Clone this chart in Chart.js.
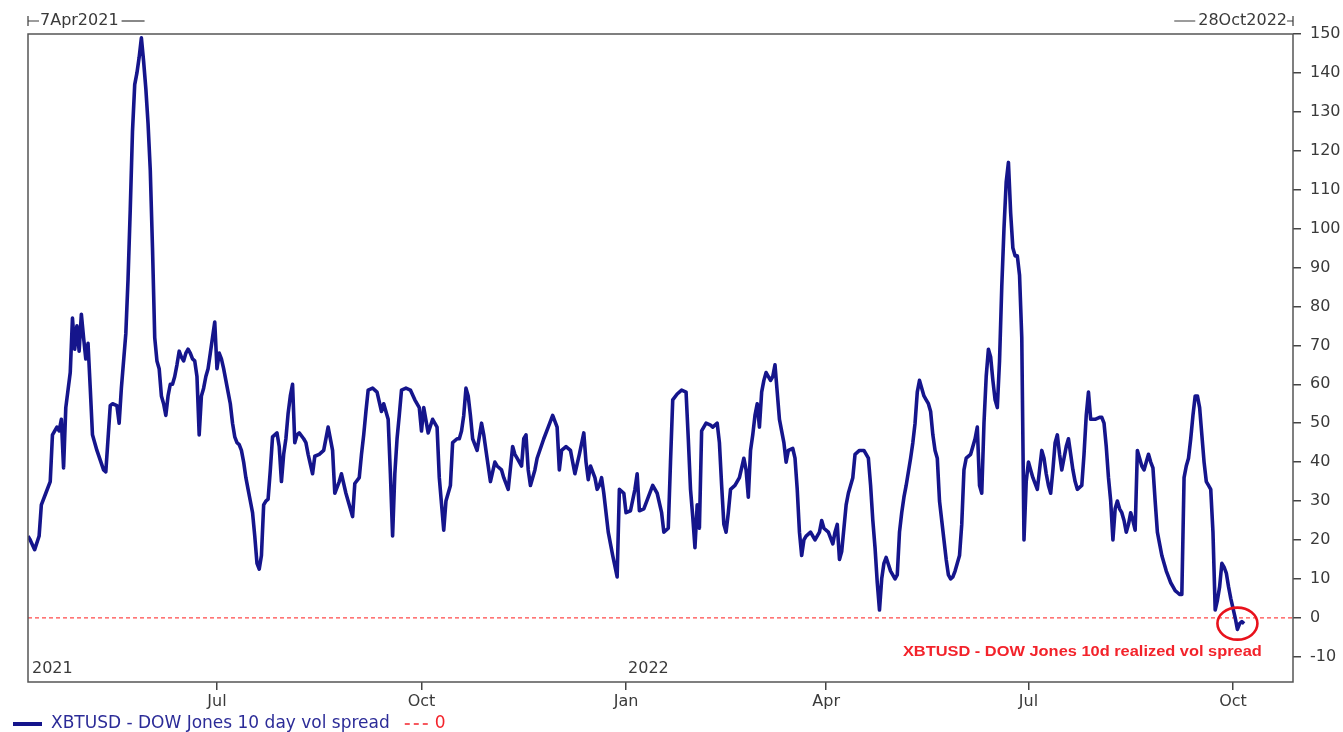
<!DOCTYPE html>
<html>
<head>
<meta charset="utf-8">
<script src="https://cdn.jsdelivr.net/npm/chart.js@4.4.0/dist/chart.umd.min.js"></script>
<style>
  html, body { margin: 0; padding: 0; background: #fff; overflow: hidden; }
  #chart { display: block; }
</style>
</head>
<body>
<canvas id="chart" width="1343" height="732"></canvas>
<script>
// XBTUSD - DOW Jones 10 day vol spread, daily, days counted from 7 Apr 2021
const startDate = "2021-04-07";
const endDate = "2022-10-28";

const spreadDays = [
  0, 1, 3, 5, 6, 8, 10, 11, 13, 14, 15, 16, 17, 19, 20, 21, 22, 23, 24, 25, 26, 27, 28, 29, 31, 34, 35, 37, 38, 40,
  41, 42, 44, 45, 46, 47, 48, 49, 50, 51, 52, 53, 54, 55, 56, 57, 58, 59, 60, 61, 62, 63, 64, 65, 66, 67, 68, 69, 70, 71,
  72, 73, 74, 75, 76, 77, 78, 79, 80, 81, 82, 83, 84, 85, 86, 87, 88, 89, 90, 91, 92, 93, 94, 95, 96, 97, 98, 99, 100, 101,
  102, 103, 104, 105, 106, 107, 108, 109, 110, 111, 112, 113, 114, 115, 116, 117, 118, 119, 120, 121, 122, 124, 125, 126, 128, 129, 131, 133, 135, 137,
  138, 140, 141, 143, 144, 146, 147, 149, 150, 151, 152, 153, 155, 157, 159, 160, 162, 163, 164, 165, 166, 167, 168, 170, 172, 174, 176, 177, 178, 180,
  182, 184, 185, 187, 188, 190, 191, 193, 194, 195, 196, 197, 198, 199, 200, 202, 204, 205, 206, 208, 210, 211, 213, 214, 216, 218, 219, 220, 222, 223,
  224, 225, 226, 228, 229, 232, 234, 236, 238, 239, 240, 242, 244, 246, 248, 250, 251, 252, 253, 255, 256, 257, 258, 259, 261, 263, 265, 266, 268, 269,
  271, 273, 274, 275, 277, 279, 281, 283, 285, 286, 288, 289, 290, 292, 294, 296, 297, 298, 299, 300, 301, 302, 303, 305, 307, 308, 310, 311, 312, 313,
  314, 315, 316, 318, 320, 322, 323, 324, 325, 326, 327, 328, 329, 330, 331, 332, 334, 335, 336, 337, 338, 340, 341, 342, 344, 345, 346, 347, 348, 349,
  350, 352, 354, 356, 357, 358, 360, 362, 363, 364, 365, 366, 368, 369, 371, 372, 374, 376, 378, 379, 380, 381, 382, 383, 384, 385, 386, 388, 390, 391,
  392, 393, 394, 395, 397, 398, 399, 400, 401, 402, 403, 404, 405, 406, 407, 408, 409, 410, 411, 412, 413, 414, 415, 416, 417, 418, 419, 420, 421, 422,
  424, 425, 426, 427, 428, 429, 430, 431, 432, 433, 434, 435, 436, 437, 438, 439, 440, 441, 442, 443, 444, 445, 446, 447, 448, 449, 450, 451, 452, 454,
  455, 456, 457, 458, 459, 460, 461, 462, 463, 464, 465, 466, 467, 468, 469, 470, 471, 472, 474, 475, 476, 477, 478, 480, 482, 483, 484, 485, 486, 487,
  488, 489, 490, 491, 492, 493, 494, 495, 496, 497, 498, 499, 500, 501, 502, 503, 504, 505, 506, 507, 508, 509, 510, 511, 512, 513, 514, 515, 516, 517,
  518, 519, 520, 521, 522, 523, 524, 525, 526, 527, 528, 529, 530, 531, 532, 533, 534, 535, 536, 537, 538, 539, 540, 541, 542, 543, 544, 545, 546, 547
];

const spreadValues = [
  21, 20, 17.5, 21, 29, 32, 35, 47, 49, 48, 51, 38.5, 54, 63, 77, 69, 75, 68.5, 78, 72, 66.5, 70.5, 59, 47, 43, 38, 37.5, 54.5, 55, 54.5,
  50, 59, 73, 87, 105, 125, 137, 140, 144, 149, 143, 136, 127, 115, 95, 72, 66, 64, 57, 55, 52, 57, 60, 60, 62, 65, 68.5, 67, 66, 68,
  69, 68, 66.5, 66, 62, 47, 57, 59, 62, 64, 68, 72, 76, 64, 68, 66.5, 64, 61, 58, 55, 50, 46.5, 45, 44.5, 43, 40, 36, 33, 30, 27,
  21, 14, 12.5, 16, 29, 30, 30.5, 38, 46.5, 47, 47.5, 44, 35, 42, 46, 52.5, 57, 60, 45, 47, 47.5, 46, 45, 42, 37, 41.5, 42, 43, 49, 43,
  32, 35, 37, 32, 30, 26, 34.5, 36, 42, 47, 53, 58.5, 59, 58, 53, 55, 51, 37, 21, 37, 46, 52, 58.5, 59, 58.5, 56, 54, 48, 54, 47.5,
  51, 49, 36, 22.5, 30, 34, 45, 46, 46, 48, 52, 59, 57, 52, 46, 43, 50, 47, 43, 35, 40, 39, 38, 36, 33, 44, 42, 41, 39, 46,
  47, 38, 34, 38, 41, 46, 49, 52, 49, 38, 43, 44, 43, 37, 42, 47.5, 40, 35.5, 39, 36, 33, 34, 36, 32, 22, 16, 10.5, 33, 32, 27,
  27.5, 33, 37, 27.5, 28, 31, 34, 32, 27, 22, 23, 40, 56, 57.5, 58.5, 58, 46, 33, 26, 18, 29, 23, 48, 50, 49.5, 49, 50, 45, 34, 24,
  22, 27, 33, 34, 36, 41, 38, 31, 43, 47, 52, 55, 49, 58, 61, 63, 61, 62, 65, 58, 51, 45, 40, 43, 43.5, 41, 33, 22, 16, 20,
  21, 22, 20, 22, 25, 23, 22, 19, 22, 24, 15, 17, 29, 32, 36, 42, 43, 43, 41, 34, 25, 18, 9, 2, 10, 14, 15.5, 12, 10, 11,
  22, 27, 31, 34, 41, 45, 50, 58, 61, 59, 57, 56, 55, 53, 47, 43, 41, 30, 25, 20, 15, 11, 10, 10.5, 12, 14, 16, 24, 38, 41,
  42, 44, 46, 49, 34, 32, 50, 62, 69, 67, 61, 56, 54, 66, 85, 100, 112, 117, 104, 95, 93, 93, 88, 72, 20, 35, 40, 38, 36, 33,
  38, 43, 41, 37, 34, 32, 38, 45, 47, 42, 38, 41, 44, 46, 42, 38, 35, 33, 34, 42, 52, 58, 51, 51, 51.5, 51.5, 50, 44, 36, 30,
  20, 28, 30, 28, 27, 25, 22, 24, 27, 25, 22.5, 43, 41, 39, 38, 40, 42, 40, 38.5, 30, 22, 19, 16, 14, 12, 10.5, 9, 8, 7, 6.5,
  6, 6, 36, 39, 41, 46, 52, 57, 57, 54, 47, 40, 35, 34, 33, 22, 2, 4.5, 8, 14, 13, 11.5, 8, 5, 2.5, 0, -3, -1.5, -1, -1.5
];

// reference series "0"
const zeroValues = [0, 0];

const xTickDates = ["2021-07-01", "2021-10-01", "2022-01-01", "2022-04-01", "2022-07-01", "2022-10-01"];
const xTickLabels = ["Jul", "Oct", "Jan", "Apr", "Jul", "Oct"];
const yearDates = ["2021-04-07", "2022-01-01"];
const yearLabels = ["2021", "2022"];
const yTickValues = [-10, 0, 10, 20, 30, 40, 50, 60, 70, 80, 90, 100, 110, 120, 130, 140, 150];

const startLabel = "7Apr2021";
const endLabel = "28Oct2022";
const seriesName = "XBTUSD - DOW Jones 10 day vol spread";
const zeroName = "0";
const noteText = "XBTUSD - DOW Jones 10d realized vol spread";

const NAVY = "#15158c";
const RED = "#f3232b";
const GREY = "#3a3a3a";
const FONT = "'DejaVu Sans', Verdana, sans-serif";

function dayOf(iso) {
  const [y, m, d] = iso.split("-").map(Number);
  const [y0, m0, d0] = startDate.split("-").map(Number);
  return Math.round((Date.UTC(y, m - 1, d) - Date.UTC(y0, m0 - 1, d0)) / 86400000);
}

const lastDay = dayOf(endDate);
const xTickDays = xTickDates.map(dayOf);

const decor = {
  id: "decor",
  afterDatasetsDraw(chart) {
    const { ctx, chartArea: a, scales: { x, y } } = chart;
    ctx.save();

    // frame
    ctx.strokeStyle = "#555";
    ctx.lineWidth = 1.5;
    ctx.strokeRect(a.left, a.top, a.right - a.left, a.bottom - a.top);

    // year labels inside the plot
    ctx.font = "16px " + FONT;
    ctx.fillStyle = GREY;
    ctx.textBaseline = "middle";
    ctx.textAlign = "left";
    yearDates.forEach((d, i) => ctx.fillText(yearLabels[i], x.getPixelForValue(dayOf(d)) + (i === 0 ? 4 : 2), a.bottom - 13));

    // range labels above the plot
    const ty = 21;
    ctx.lineWidth = 1.2;
    ctx.strokeStyle = GREY;
    ctx.beginPath();
    ctx.moveTo(a.left, ty - 5); ctx.lineTo(a.left, ty + 5);
    ctx.moveTo(a.left, ty); ctx.lineTo(a.left + 11, ty);
    ctx.stroke();
    const sw = ctx.measureText(startLabel).width;
    ctx.fillText(startLabel, a.left + 12, ty);
    ctx.beginPath();
    ctx.moveTo(a.left + 15 + sw, ty); ctx.lineTo(a.left + 38 + sw, ty);
    ctx.stroke();

    ctx.textAlign = "right";
    const ew = ctx.measureText(endLabel).width;
    ctx.fillText(endLabel, a.right - 6, ty);
    ctx.beginPath();
    ctx.moveTo(a.right, ty - 5); ctx.lineTo(a.right, ty + 5);
    ctx.moveTo(a.right, ty); ctx.lineTo(a.right - 6, ty);
    ctx.moveTo(a.right - 9 - ew, ty); ctx.lineTo(a.right - 30 - ew, ty);
    ctx.stroke();

    // highlight around the latest reading
    ctx.strokeStyle = "#e8121c";
    ctx.lineWidth = 2.6;
    ctx.beginPath();
    ctx.ellipse(x.getPixelForValue(544), y.getPixelForValue(-1.5), 20, 16, 0, 0, Math.PI * 2);
    ctx.stroke();

    // note
    ctx.fillStyle = RED;
    ctx.font = "bold 15px 'Liberation Sans', Arial, sans-serif";
    ctx.textAlign = "left";
    const nw = ctx.measureText(noteText).width;
    const nRight = x.getPixelForValue(555);
    const target = 359;
    ctx.save();
    ctx.translate(nRight - target, y.getPixelForValue(-8.7));
    ctx.scale(target / nw, 1);
    ctx.fillText(noteText, 0, 0);
    ctx.restore();

    // legend
    const ly = 724;
    ctx.strokeStyle = NAVY;
    ctx.lineWidth = 4;
    ctx.setLineDash([]);
    ctx.beginPath(); ctx.moveTo(13, ly); ctx.lineTo(42, ly); ctx.stroke();
    ctx.font = "17px " + FONT;
    ctx.fillStyle = "#2c2c98";
    ctx.fillText(seriesName, 51, ly);
    const lw = ctx.measureText(seriesName).width;
    ctx.strokeStyle = RED;
    ctx.lineWidth = 1.5;
    ctx.setLineDash([5, 4]);
    ctx.beginPath(); ctx.moveTo(51 + lw + 15, ly); ctx.lineTo(51 + lw + 40, ly); ctx.stroke();
    ctx.setLineDash([]);
    ctx.fillStyle = RED;
    ctx.fillText(zeroName, 51 + lw + 45, ly);

    ctx.restore();
  }
};

new Chart(document.getElementById("chart"), {
  type: "line",
  data: {
    datasets: [
      {
        label: seriesName,
        data: spreadDays.map((d, i) => ({ x: d, y: spreadValues[i] })),
        borderColor: NAVY,
        borderWidth: 3.6,
        pointRadius: 0,
        tension: 0,
        borderJoinStyle: "round"
      },
      {
        label: zeroName,
        data: [0, lastDay].map((d, i) => ({ x: d, y: zeroValues[i] })),
        borderColor: "#ff4a4a",
        borderWidth: 1.2,
        borderDash: [4, 3],
        pointRadius: 0
      }
    ]
  },
  options: {
    responsive: false,
    animation: false,
    layout: { padding: { left: 28, top: 34, right: 0, bottom: 0 } },
    plugins: { legend: { display: false }, tooltip: { enabled: false } },
    scales: {
      x: {
        type: "linear",
        min: 0,
        max: lastDay,
        afterBuildTicks: s => { s.ticks = xTickDays.map(v => ({ value: v })); },
        afterFit: s => { s.height = 50; },
        ticks: {
          callback: (v, i) => xTickLabels[i],
          autoSkip: false,
          maxRotation: 0,
          padding: 2,
          color: GREY,
          font: { family: FONT, size: 16 }
        },
        grid: { drawOnChartArea: false, drawTicks: true, tickLength: 8, color: "#444", lineWidth: 1.5 },
        border: { display: false }
      },
      y: {
        position: "right",
        min: -16.5,
        max: 150,
        afterBuildTicks: s => { s.ticks = yTickValues.map(v => ({ value: v })); },
        afterFit: s => { s.width = 50; },
        ticks: {
          padding: 9,
          color: GREY,
          font: { family: FONT, size: 16 }
        },
        grid: { drawOnChartArea: false, drawTicks: true, tickLength: 8, color: "#444", lineWidth: 1.5 },
        border: { display: false }
      }
    }
  },
  plugins: [decor]
});
</script>
</body>
</html>
